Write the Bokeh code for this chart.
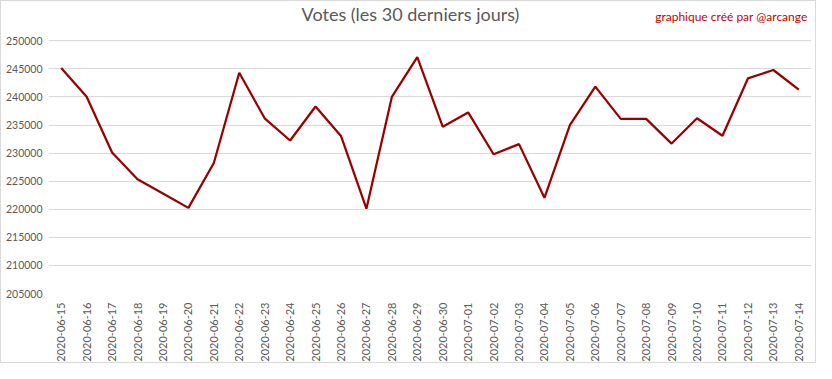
import math
from bokeh.plotting import figure
from bokeh.models import ColumnDataSource, FixedTicker, NumeralTickFormatter, Label, Range1d
from bokeh.embed import file_html
from bokeh.resources import INLINE

dates = ["2020-06-15", "2020-06-16", "2020-06-17", "2020-06-18", "2020-06-19",
         "2020-06-20", "2020-06-21", "2020-06-22", "2020-06-23", "2020-06-24",
         "2020-06-25", "2020-06-26", "2020-06-27", "2020-06-28", "2020-06-29",
         "2020-06-30", "2020-07-01", "2020-07-02", "2020-07-03", "2020-07-04",
         "2020-07-05", "2020-07-06", "2020-07-07", "2020-07-08", "2020-07-09",
         "2020-07-10", "2020-07-11", "2020-07-12", "2020-07-13", "2020-07-14"]
votes = [245150, 240050, 230100, 225350, 222800,
         220250, 228250, 244300, 236200, 232250,
         238300, 233050, 220100, 240000, 247100,
         234700, 237250, 229800, 231600, 222050,
         235000, 241850, 236100, 236100, 231700,
         236200, 233100, 243300, 244800, 241300]
y_ticks = [205000, 210000, 215000, 220000, 225000, 230000, 235000, 240000, 245000, 250000]

title_text = "Votes (les 30 derniers jours)"
credit_text = "graphique créé par @arcange"

source = ColumnDataSource(data=dict(date=dates, votes=votes))

p = figure(width=816, height=363, x_range=dates, y_range=Range1d(205000, 257000),
           output_backend="svg", toolbar_location=None,
           min_border_left=47, min_border_right=6, min_border_top=0, min_border_bottom=64)
p.styles = {"border": "1px solid #d9d9d9", "box-sizing": "border-box"}
p.outline_line_color = None
p.background_fill_color = "white"
p.border_fill_color = "white"

p.line(x="date", y="votes", source=source, line_color="#990000", line_width=2.25)

p.xgrid.grid_line_color = None
p.ygrid.grid_line_color = "#d9d9d9"
p.ygrid.grid_line_width = 1

p.yaxis.ticker = FixedTicker(ticks=y_ticks)
p.yaxis.formatter = NumeralTickFormatter(format="0")
for ax in (p.xaxis[0], p.yaxis[0]):
    ax.axis_line_color = None
    ax.major_tick_line_color = None
    ax.minor_tick_line_color = None
    ax.major_tick_in = 0
    ax.major_tick_out = 0
    ax.minor_tick_out = 0
    ax.major_label_text_color = "#595959"
    ax.major_label_text_font = "Lato"
    ax.major_label_text_font_size = "11px"
p.yaxis.major_label_text_font_size = "10.5px"
p.yaxis.major_label_standoff = 6
p.xaxis.major_label_standoff = 9
p.xaxis.major_label_orientation = math.pi / 2

title = Label(x=362, y=254700, x_units="screen", y_units="data", text=title_text,
              text_align="center", text_baseline="middle", text_font="Lato",
              text_font_size="18px", text_color="#595959")
credit = Label(x=759, y=254400, x_units="screen", y_units="data", text=credit_text,
               text_align="right", text_baseline="middle", text_font="Lato",
               text_font_size="12px", text_color="#c00000")
p.add_layout(title)
p.add_layout(credit)

open("out.html", "w").write(file_html(p, INLINE))
